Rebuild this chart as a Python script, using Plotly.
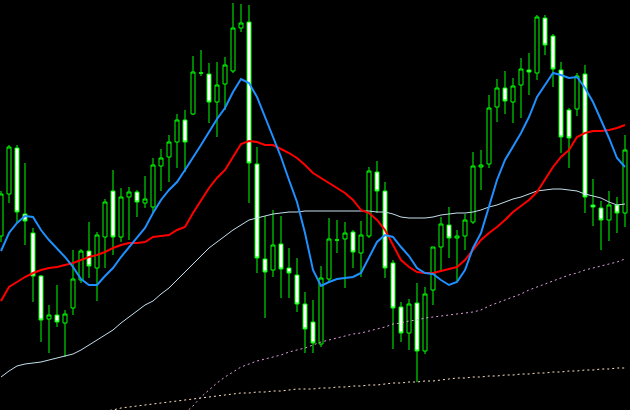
import plotly.graph_objects as go

# Bar index (one candle every bar)
bars = list(range(79))

opens = [174, 216, 262, 196, 177, 134, 91, 95, 87, 102, 130, 159, 142, 173, 219, 173, 213, 218, 207, 203,
         244, 253, 268, 290, 296, 337, 336, 308, 326, 339, 382, 388, 246, 151, 140, 166, 142, 135, 106, 88,
         66, 131, 170, 171, 178, 157, 174, 238, 219, 147, 103, 77, 107, 59, 120, 163, 185, 172, 174, 188,
         243, 246, 303, 322, 308, 325, 340, 337, 392, 374, 340, 300, 301, 336, 205, 202, 190, 205, 197]
highs = [219, 265, 265, 247, 182, 135, 105, 125, 100, 160, 161, 188, 178, 211, 240, 222, 223, 220, 234, 252,
         261, 275, 296, 300, 354, 360, 347, 348, 353, 407, 406, 405, 263, 194, 200, 194, 162, 152, 118, 110,
         144, 192, 190, 188, 180, 189, 243, 249, 228, 150, 108, 111, 127, 123, 163, 193, 203, 180, 196, 258,
         260, 315, 331, 339, 332, 352, 357, 395, 395, 376, 348, 302, 337, 345, 231, 209, 219, 213, 275]
lows = [168, 207, 187, 165, 108, 68, 57, 83, 53, 95, 127, 132, 109, 142, 155, 168, 170, 193, 202, 197,
        219, 228, 242, 238, 295, 334, 287, 273, 300, 337, 378, 207, 137, 92, 133, 112, 112, 98, 57, 57,
        63, 127, 157, 122, 142, 133, 172, 197, 132, 61, 68, 60, 28, 56, 105, 138, 152, 129, 160, 186,
        220, 242, 288, 296, 287, 292, 315, 330, 355, 323, 257, 242, 294, 197, 184, 160, 169, 177, 183]
closes = [216, 263, 198, 189, 134, 90, 95, 88, 96, 131, 159, 144, 175, 208, 173, 213, 218, 208, 211, 245,
          252, 268, 290, 268, 338, 337, 308, 325, 345, 382, 387, 247, 152, 138, 165, 141, 137, 106, 81, 67,
          132, 171, 170, 177, 158, 175, 239, 219, 142, 102, 77, 106, 59, 116, 163, 186, 172, 174, 190, 244,
          245, 302, 322, 309, 324, 341, 338, 393, 365, 341, 273, 272, 334, 213, 203, 190, 205, 197, 260]

ma_fast = [159, 177, 187, 194, 193, 180, 170, 162, 153, 143, 131, 125, 125, 134, 142, 153, 163, 173, 182, 197,
           210, 220, 228, 240, 252, 265, 278, 291, 302, 318, 331, 327, 313, 293, 273, 253, 230, 208, 177, 140,
           124, 128, 131, 132, 133, 137, 153, 168, 175, 173, 163, 154, 142, 137, 136, 130, 125, 128, 140, 162,
           177, 203, 230, 250, 263, 277, 293, 313, 325, 337, 335, 332, 333, 322, 308, 290, 272, 252, 243]
ma_mid = [109, 123, 128, 133, 137, 140, 142, 143, 145, 147, 150, 153, 155, 158, 162, 165, 167, 167, 168, 173,
          174, 175, 180, 183, 197, 210, 222, 232, 240, 253, 266, 269, 268, 265, 265, 261, 257, 252, 245, 237,
          232, 227, 222, 217, 210, 200, 197, 190, 180, 165, 150, 143, 138, 137, 137, 139, 141, 143, 150, 160,
          170, 177, 183, 190, 198, 204, 210, 218, 230, 243, 253, 260, 273, 277, 279, 279, 280, 282, 285]
ma_slow = [33, 39, 44, 46, 47, 48, 50, 52, 54, 56, 60, 65, 70, 75, 80, 87, 93, 99, 105, 109,
           116, 122, 130, 138, 146, 154, 162, 168, 174, 180, 185, 190, 192, 194, 196, 197, 198, 198, 199, 199,
           199, 199, 199, 199, 199, 199, 199, 198, 198, 196, 193, 192, 192, 192, 193, 195, 196, 197, 197, 198,
           200, 203, 205, 208, 211, 213, 216, 219, 220, 221, 221, 220, 219, 216, 214, 212, 208, 205, 206]
ma_long = [None] * 23 + [-3, 4, 13, 20, 27, 33, 38, 43, 46, 49, 51, 53, 55, 58, 60, 62, 65,
                         68, 70, 72, 74, 76, 77, 79, 81, 83, 86, 87, 89, 90, 92, 93, 94, 95, 96, 97, 98,
                         100, 104, 107, 110, 113, 116, 120, 123, 126, 129, 132, 135, 137, 140, 142, 144, 146, 148, 151]
ma_longest = [None] * 13 + [-1, 0, 2, 3, 4, 5, 6, 7, 8, 9, 10, 11, 12, 13, 14, 15, 16, 17, 17, 18, 18,
                            19, 19, 20, 21, 21, 21, 22, 22, 23, 23, 24, 24, 25, 25, 26, 27, 27, 28, 28, 29,
                            29, 30, 31, 32, 32, 33, 33, 34, 34, 35, 35, 36, 36, 37, 37, 38, 38, 39, 39, 40,
                            40, 41, 41, 42, 42]

BULL = "#00ff00"

fig = go.Figure()
fig.add_trace(go.Candlestick(
    x=bars, open=opens, high=highs, low=lows, close=closes,
    increasing=dict(line=dict(color=BULL, width=1), fillcolor="black"),
    decreasing=dict(line=dict(color=BULL, width=1), fillcolor="white"),
    whiskerwidth=0, showlegend=False, hoverinfo="skip",
))
fig.add_trace(go.Scatter(x=bars, y=ma_longest, mode="lines",
                         line=dict(color="#ffe4c4", width=1, dash="2px,3px"), showlegend=False))
fig.add_trace(go.Scatter(x=bars, y=ma_long, mode="lines",
                         line=dict(color="#dda0dd", width=1, dash="2px,3px"), showlegend=False))
fig.add_trace(go.Scatter(x=bars, y=ma_slow, mode="lines",
                         line=dict(color="#c4e0ee", width=1), showlegend=False))
fig.add_trace(go.Scatter(x=bars, y=ma_mid, mode="lines",
                         line=dict(color="#ff0000", width=2), showlegend=False))
fig.add_trace(go.Scatter(x=bars, y=ma_fast, mode="lines",
                         line=dict(color="#1e90ff", width=2), showlegend=False))

fig.update_layout(
    width=630, height=410,
    margin=dict(l=0, r=0, t=0, b=0),
    paper_bgcolor="black", plot_bgcolor="black",
    boxgap=0.5, boxgroupgap=0,
    xaxis=dict(range=[-0.125, 78.625], visible=False, showgrid=False, zeroline=False,
               rangeslider=dict(visible=False)),
    yaxis=dict(range=[0, 410], visible=False, showgrid=False, zeroline=False),
)

fig.write_html(
    "out.html",
    config={"displayModeBar": False, "staticPlot": True},
    post_script="document.body.style.margin='0';document.body.style.background='black';",
)
